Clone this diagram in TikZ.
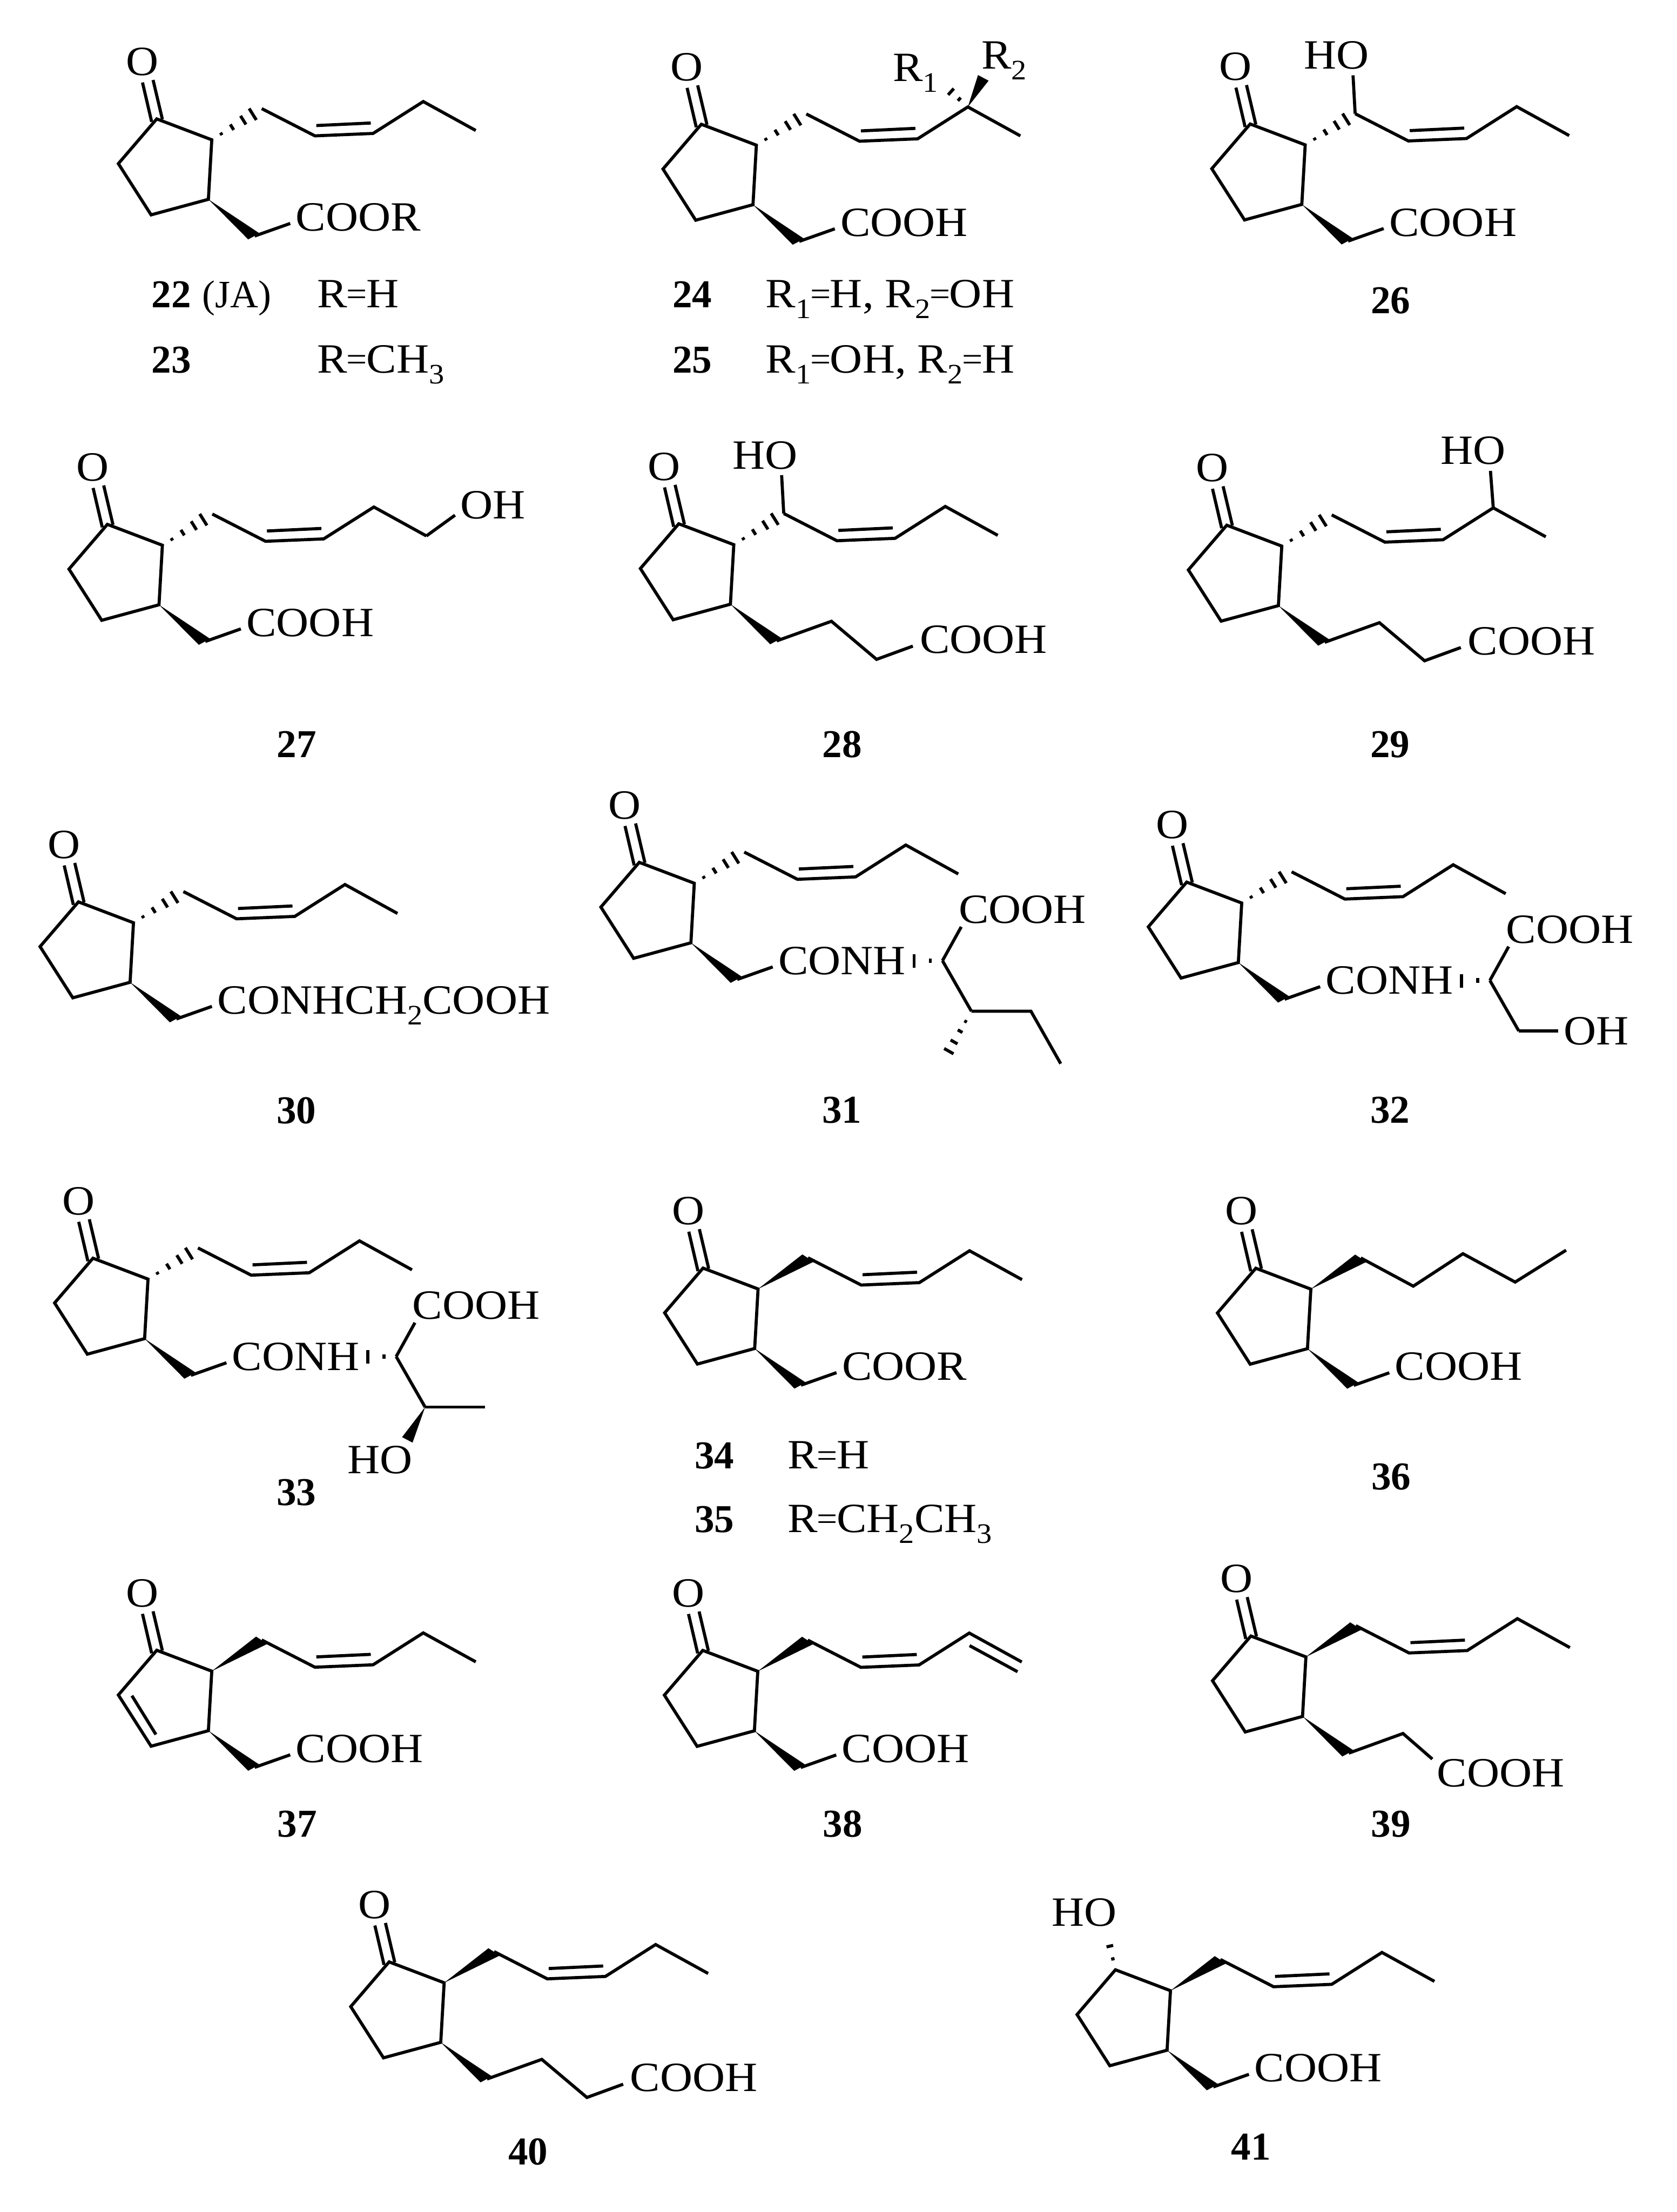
\documentclass[tikz,border=0pt]{standalone}
\usepackage{fontspec}
\usetikzlibrary{calc}
\newfontfamily\chemfont[FakeStretch=1.08]{Liberation Serif}
\newfontfamily\numfont{Liberation Serif}
\newcommand\chemf{\chemfont\fontsize{29.5}{32}\selectfont}
\newcommand\numf{\numfont\bfseries\fontsize{28}{32}\selectfont}
\newcommand\subs[1]{\raisebox{-7.6pt}{\fontsize{20}{24}\selectfont #1}}
\newcommand\eqs{\kern-0.5pt\raisebox{1.4pt}{\fontsize{24}{24}\selectfont =}\kern-0.5pt}
\tikzset{
  bond/.style={line width=2.2pt,line cap=butt,line join=miter,black},
  chem/.style={anchor=base west,inner sep=0pt,outer sep=0pt,font=\chemf},
  chemc/.style={anchor=base,inner sep=0pt,outer sep=0pt,font=\chemf},
  num/.style={anchor=base,inner sep=0pt,outer sep=0pt,font=\numf},
  numw/.style={anchor=base west,inner sep=0pt,outer sep=0pt,font=\numf},
}
% hashed bond: from #1 to #2, list of position/half-width
\newcommand\hashb[3]{\foreach \hT/\hW in {#3}{\draw[bond] ($(#1)!\hT!(#2)!\hW pt!90:(#2)$) -- ($(#1)!\hT!(#2)!\hW pt!-90:(#2)$);}}
% five-membered ring without the oxygen
\newcommand\ringbare{%
  \coordinate (c1) at (111.1,84.3);\coordinate (c2) at (150.1,99.1);\coordinate (c3) at (147.7,141.3);
  \coordinate (c4) at (107.1,152.3);\coordinate (c5) at (83.9,116);
  \draw[bond] (c1)--(c2)--(c3)--(c4)--(c5)--cycle;}
\newcommand\ketone{%
  \coordinate (oa1) at (101,58.5);\coordinate (oa2) at (107.5,86.4);
  \coordinate (ob1) at (108.5,56.7);\coordinate (ob2) at (115.1,84.6);
  \draw[bond] (oa1)--(oa2) (ob1)--(ob2);
  \node[chemc] (oxo) at (100.8,53.4) {O};}
\newcommand\ringketo{\ringbare\ketone}
% pentenyl chain coordinates
\newcommand\chaincoords{%
  \coordinate (d0) at (185.5,77);\coordinate (d1) at (223.2,96.3);\coordinate (d2) at (264.4,94.6);
  \coordinate (d3) at (300,72);\coordinate (d4) at (337.2,92.5);
  \coordinate (i1) at (224.2,89);\coordinate (i2) at (262.8,87.2);}
\newcommand\hashup{\hashb{c2}{d0}{.19/1.0,.405/2.3,.63/3.6,.82/4.8}}
\newcommand\wedgeup{\coordinate (wa) at (181.5,74.6);\coordinate (wb) at (189.5,79.8);\fill (c2)--(wa)--(wb)--cycle;}
\newcommand\chainfull{\draw[bond] (d0)--(d1)--(d2)--(d3)--(d4) (i1)--(i2);}
% lower wedge to CH2
\newcommand\wedgedown{%
  \coordinate (ea) at (175.9,169.7);\coordinate (eb) at (183.9,165.4);\coordinate (e1) at (180.5,167.3);
  \fill (c3)--(ea)--(eb)--cycle;}
\newcommand\acid[1]{%
  \coordinate (e2) at (205.7,158.4);\draw[bond] (e1)--(e2);
  \node[chem] (acid) at (209.7,163.7) {#1};}
\newcommand\longacid{%
  \coordinate (f1) at (219.3,153.4);\coordinate (f2) at (251.3,180.4);\coordinate (f3) at (277,171);
  \draw[bond] (e1)--(f1)--(f2)--(f3);
  \node[chem] (acid) at (282,176) {COOH};}
\newcommand\hoA{%
  \coordinate (hoe) at (184,49.8);\draw[bond] (hoe)--(d0);
  \node[chem] (hoa) at (149.3,45.3) {HO};}
% amino acid part
\newcommand\aminohead{%
  \coordinate (tk1a) at (305.9,149.5);\coordinate (tk1b) at (305.9,159);
  \coordinate (tk2a) at (317.4,152.3);\coordinate (tk2b) at (317.4,155.7);
  \draw[bond] (tk1a)--(tk1b) (tk2a)--(tk2b);
  \coordinate (al) at (326,154);\coordinate (alc) at (339.3,130);
  \draw[bond] (al)--(alc);
  \node[chem] (aac) at (337.5,127.5) {COOH};
  \coordinate (be) at (346.5,189.8);\draw[bond] (al)--(be);}
\begin{document}
\begin{tikzpicture}[x=1pt,y=-1pt]
\fill[white] (0,0) rectangle (1188.4,1568);
\useasboundingbox (0,0) rectangle (1188.4,1568);

% 22/23
\begin{scope}[name prefix=m22-]
\ringketo\chaincoords\hashup\chainfull\wedgedown\acid{COOR}
\end{scope}
\node[numw] (l22) at (107.5,218) {22\kern8pt{\chemfont\mdseries\fontsize{27.5}{30}\selectfont\addfontfeature{FakeStretch=1}(JA)}};
\node[chem] (r22) at (225,218) {R\eqs H};
\node[numw] (l23) at (107.5,264.2) {23};
\node[chem] (r23) at (225,264.2) {R\eqs CH\subs{3}};

% 24/25
\begin{scope}[shift={(386,3.8)},name prefix=m24-]
\ringketo\chaincoords\hashup\chainfull\wedgedown\acid{COOH}
\coordinate (rh) at (282.1,55.9);\coordinate (rwa) at (307.2,49.4);\coordinate (rwb) at (314.7,53.4);
\hashb{d3}{rh}{.34/1.5,.67/3,1/5}
\fill (d3)--(rwa)--(rwb)--cycle;
\end{scope}
\node[chem] (r1) at (632.9,57.6) {R\subs{1}};
\node[chem] (r2) at (695.6,48.9) {R\subs{2}};
\node[numw] (l24) at (476.7,218) {24};
\node[chem] (r24) at (542.7,218) {R\subs{1}\eqs H, R\subs{2}\eqs OH};
\node[numw] (l25) at (476.7,264.2) {25};
\node[chem] (r25) at (542.7,264.2) {R\subs{1}\eqs OH, R\subs{2}\eqs H};

% 26
\begin{scope}[shift={(775,3.6)},name prefix=m26-]
\ringketo\chaincoords\hashup\chainfull\wedgedown\acid{COOH}\hoA
\end{scope}
\node[num] (l26) at (985.7,222.4) {26};

% 27
\begin{scope}[shift={(-35,287.4)},name prefix=m27-]
\ringketo\chaincoords\hashup\chainfull\wedgedown\acid{COOH}
\coordinate (oe) at (357.5,77.8);\draw[bond] (d4)--(oe);
\node[chem] (oh) at (361.5,80.2) {OH};
\end{scope}
\node[num] (l27) at (210.3,536.8) {27};

% 28
\begin{scope}[shift={(370,287)},name prefix=m28-]
\ringketo\chaincoords\hashup\chainfull\wedgedown\longacid\hoA
\end{scope}
\node[num] (l28) at (597,536.8) {28};

% 29
\begin{scope}[shift={(758.4,288)},name prefix=m29-]
\ringketo\chaincoords\hashup\chainfull\wedgedown\longacid
\coordinate (hoe) at (298,45.8);\draw[bond] (hoe)--(d3);
\node[chem] (hoa) at (262.7,41) {HO};
\end{scope}
\node[num] (l29) at (985.3,537) {29};

% 30
\begin{scope}[shift={(-55.5,555)},name prefix=m30-]
\ringketo\chaincoords\hashup\chainfull\wedgedown\acid{CONHCH\subs{2}COOH}
\end{scope}
\node[num] (l30) at (210.1,796.3) {30};

% 31
\begin{scope}[shift={(342,527)},name prefix=m31-]
\ringketo\chaincoords\hashup\chainfull\wedgedown\acid{CONH}\aminohead
\coordinate (g1) at (388.7,189.8);\coordinate (g2) at (409.8,227);\coordinate (g3) at (326,226.1);
\draw[bond] (be)--(g1)--(g2);
\hashb{be}{g3}{.2/1,.39/1.9,.6/2.8,.78/3.8,1/4.9}
\end{scope}
\node[num] (l31) at (596.7,796.2) {31};

% 32
\begin{scope}[shift={(730,541)},name prefix=m32-]
\ringketo\chaincoords\hashup\chainfull\wedgedown\acid{CONH}\aminohead
\coordinate (g1) at (374.3,189.8);\draw[bond] (be)--(g1);
\node[chem] (oh) at (378.3,199.6) {OH};
\end{scope}
\node[num] (l32) at (985.3,796) {32};

% 33
\begin{scope}[shift={(-45.2,807.6)},name prefix=m33-]
\ringketo\chaincoords\hashup\chainfull\wedgedown\acid{CONH}\aminohead
\coordinate (g1) at (388.8,189.8);\draw[bond] (be)--(g1);
\coordinate (ha) at (330.2,211.1);\coordinate (hb) at (337.6,215);
\fill (be)--(ha)--(hb)--cycle;
\node[chem] (hoa) at (291.4,236.7) {HO};
\end{scope}
\node[num] (l33) at (210,1067) {33};

% 34/35
\begin{scope}[shift={(387.2,814.6)},name prefix=m34-]
\ringketo\chaincoords\wedgeup\chainfull\wedgedown\acid{COOR}
\end{scope}
\node[numw] (l34) at (492.4,1041.2) {34};
\node[chem] (r34) at (558.2,1041.2) {R\eqs H};
\node[numw] (l35) at (492.4,1086.2) {35};
\node[chem] (r35) at (558.2,1086.2) {R\eqs CH\subs{2}CH\subs{3}};

% 36
\begin{scope}[shift={(779,814.7)},name prefix=m36-]
\ringketo\chaincoords\wedgeup\wedgedown\acid{COOH}
\coordinate (s1) at (222.7,97);\coordinate (s2) at (257.9,74);\coordinate (s3) at (294.9,94.1);\coordinate (s4) at (331,71.5);
\draw[bond] (d0)--(s1)--(s2)--(s3)--(s4);
\end{scope}
\node[num] (l36) at (986,1055.8) {36};

% 37
\begin{scope}[shift={(0,1085.5)},name prefix=m37-]
\ringketo\chaincoords\wedgeup\chainfull\wedgedown\acid{COOH}
\coordinate (j1) at (93.5,116.5);\coordinate (j2) at (110.5,144);
\draw[bond] (j1)--(j2);
\end{scope}
\node[num] (l37) at (210.6,1302) {37};

% 38
\begin{scope}[shift={(387,1085.6)},name prefix=m38-]
\ringketo\chaincoords\wedgeup\chainfull\wedgedown\acid{COOH}
\coordinate (v1) at (300.2,80.9);\coordinate (v2) at (334.2,99.4);
\draw[bond] (v1)--(v2);
\end{scope}
\node[num] (l38) at (597.2,1302.2) {38};

% 39
\begin{scope}[shift={(775.5,1075.4)},name prefix=m39-]
\ringketo\chaincoords\wedgeup\chainfull\wedgedown
\coordinate (f1) at (218.9,153.4);\coordinate (f2) at (239.7,171.5);
\draw[bond] (e1)--(f1)--(f2);
\node[chem] (acid) at (243.1,191) {COOH};
\end{scope}
\node[num] (l39) at (985.9,1302.2) {39};

% 40
\begin{scope}[shift={(164.7,1306.4)},name prefix=m40-]
\ringketo\chaincoords\wedgeup\chainfull\wedgedown\longacid
\end{scope}
\node[num] (l40) at (374.3,1534.4) {40};

% 41
\begin{scope}[shift={(679.5,1312)},name prefix=m41-]
\ringbare\chaincoords\wedgeup\chainfull\wedgedown\acid{COOH}
\coordinate (oh1) at (105,58.5);
\hashb{c1}{oh1}{.3/1.2,.65/2.4,1/3.8}
\end{scope}
\node[chem] (ho41) at (745.5,1365.2) {HO};
\node[num] (l41) at (886.6,1530.9) {41};
\end{tikzpicture}
\end{document}
